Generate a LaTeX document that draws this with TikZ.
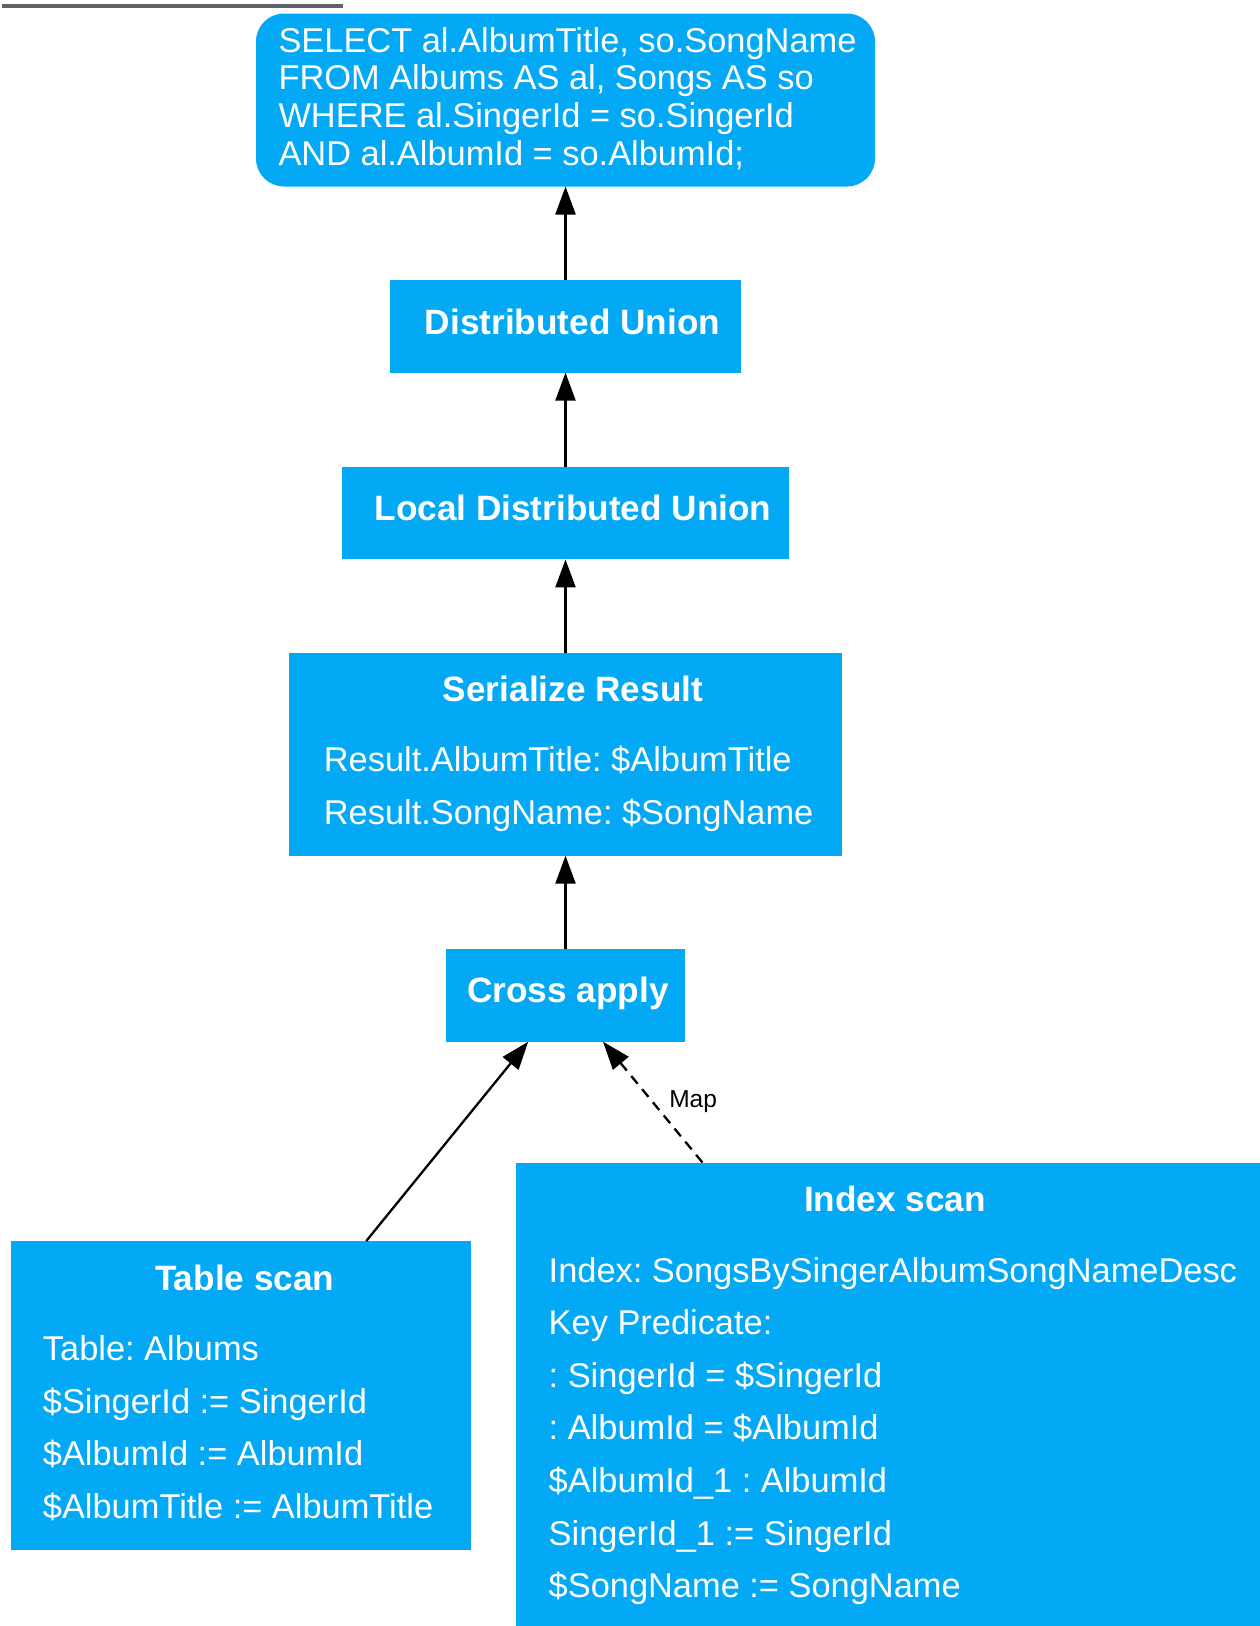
\documentclass[tikz,border=0pt]{standalone}
\usepackage{fontspec}
\setmainfont{Liberation Sans}
\usetikzlibrary{arrows.meta}
\definecolor{opblue}{HTML}{03A9F4}
\definecolor{rulegray}{HTML}{5F6368}
\frenchspacing

\begin{document}
\begin{tikzpicture}[x=1pt,y=-1pt,
  opbox/.style={fill=opblue, draw=none, inner sep=0pt, outer sep=0pt},
  optitle/.style={text=white, font=\bfseries\fontsize{35.2}{42}\selectfont, inner sep=0pt, anchor=base},
  opbody/.style={text=white, font=\fontsize{34.4}{52.6}\selectfont, inner sep=0pt, anchor=base west, align=left},
  sqltext/.style={text=white, font=\fontsize{34.4}{37.7}\selectfont, inner sep=0pt, anchor=base west, align=left},
  flow/.style={line width=2.3pt, -{Triangle[length=28pt,width=20pt]}},
  edgelabel/.style={font=\fontsize{24.5}{29}\selectfont, inner sep=0pt, anchor=base west},
]
\path[use as bounding box, clip] (0,0) rectangle (1260,1626);
\fill[white] (0,0) rectangle (1260,1626);

% header rule
\coordinate (ruleA) at (2,6);
\coordinate (ruleB) at (343,6);
\draw[rulegray, line width=4pt] (ruleA) -- (ruleB);

% query box (text nodes are placed by the baseline of their last line)
\node[opbox, rounded corners=28pt, minimum width=619pt, minimum height=173pt] (sql) at (565.5,100) {};
\node[sqltext] (sqlq) at (278.3,165.3) {SELECT al.AlbumTitle, so.SongName\\FROM Albums AS al, Songs AS so\\WHERE al.SingerId = so.SingerId\\AND al.AlbumId = so.AlbumId;};

% operators
\node[opbox, minimum width=351pt, minimum height=92.7pt] (du) at (565.5,326.3) {};
\node[optitle] (dut) at (572.5,334) {Distributed Union};

\node[opbox, minimum width=447pt, minimum height=92.5pt] (ldu) at (565.5,513.2) {};
\node[optitle] (ldut) at (573,520.8) {Local Distributed Union};

\node[opbox, minimum width=553pt, minimum height=203pt] (sr) at (565.5,754.2) {};
\node[optitle] (srt) at (573,701) {Serialize Result};
\node[opbody] (srb) at (323.7,824.3) {Result.AlbumTitle: \$AlbumTitle\\Result.SongName: \$SongName};

\node[opbox, minimum width=239pt, minimum height=92.4pt] (ca) at (565.5,995.5) {};
\node[optitle] (cat) at (568,1002.3) {Cross apply};

\node[opbox, minimum width=460pt, minimum height=309pt] (ts) at (241,1395.5) {};
\node[optitle] (tst) at (244.7,1290) {Table scan};
\node[opbody] (tsb) at (42.7,1518.5) {Table: Albums\\\$SingerId := SingerId\\\$AlbumId := AlbumId\\\$AlbumTitle := AlbumTitle};

\node[opbox, minimum width=752.5pt, minimum height=467.5pt] (is) at (892.25,1396.25) {};
\node[optitle] (ist) at (895,1211.5) {Index scan};
\node[opbody] (isb) at (548.5,1597.6) {Index: SongsBySingerAlbumSongNameDesc\\Key Predicate:\\: SingerId = \$SingerId\\: AlbumId = \$AlbumId\\\$AlbumId\_1 : AlbumId\\SingerId\_1 := SingerId\\\$SongName := SongName};

% data flow
\draw[flow] (du) -- (sql);
\draw[flow] (ldu) -- (du);
\draw[flow] (sr) -- (ldu);
\draw[flow] (ca) -- (sr);
\draw[flow] (ts) -- (ca);
\draw[flow, dash pattern=on 10pt off 7pt] (is) -- node[edgelabel, pos=0.5, xshift=15.4pt, yshift=-5.2pt] (maplbl) {Map} (ca);
\end{tikzpicture}
\end{document}
